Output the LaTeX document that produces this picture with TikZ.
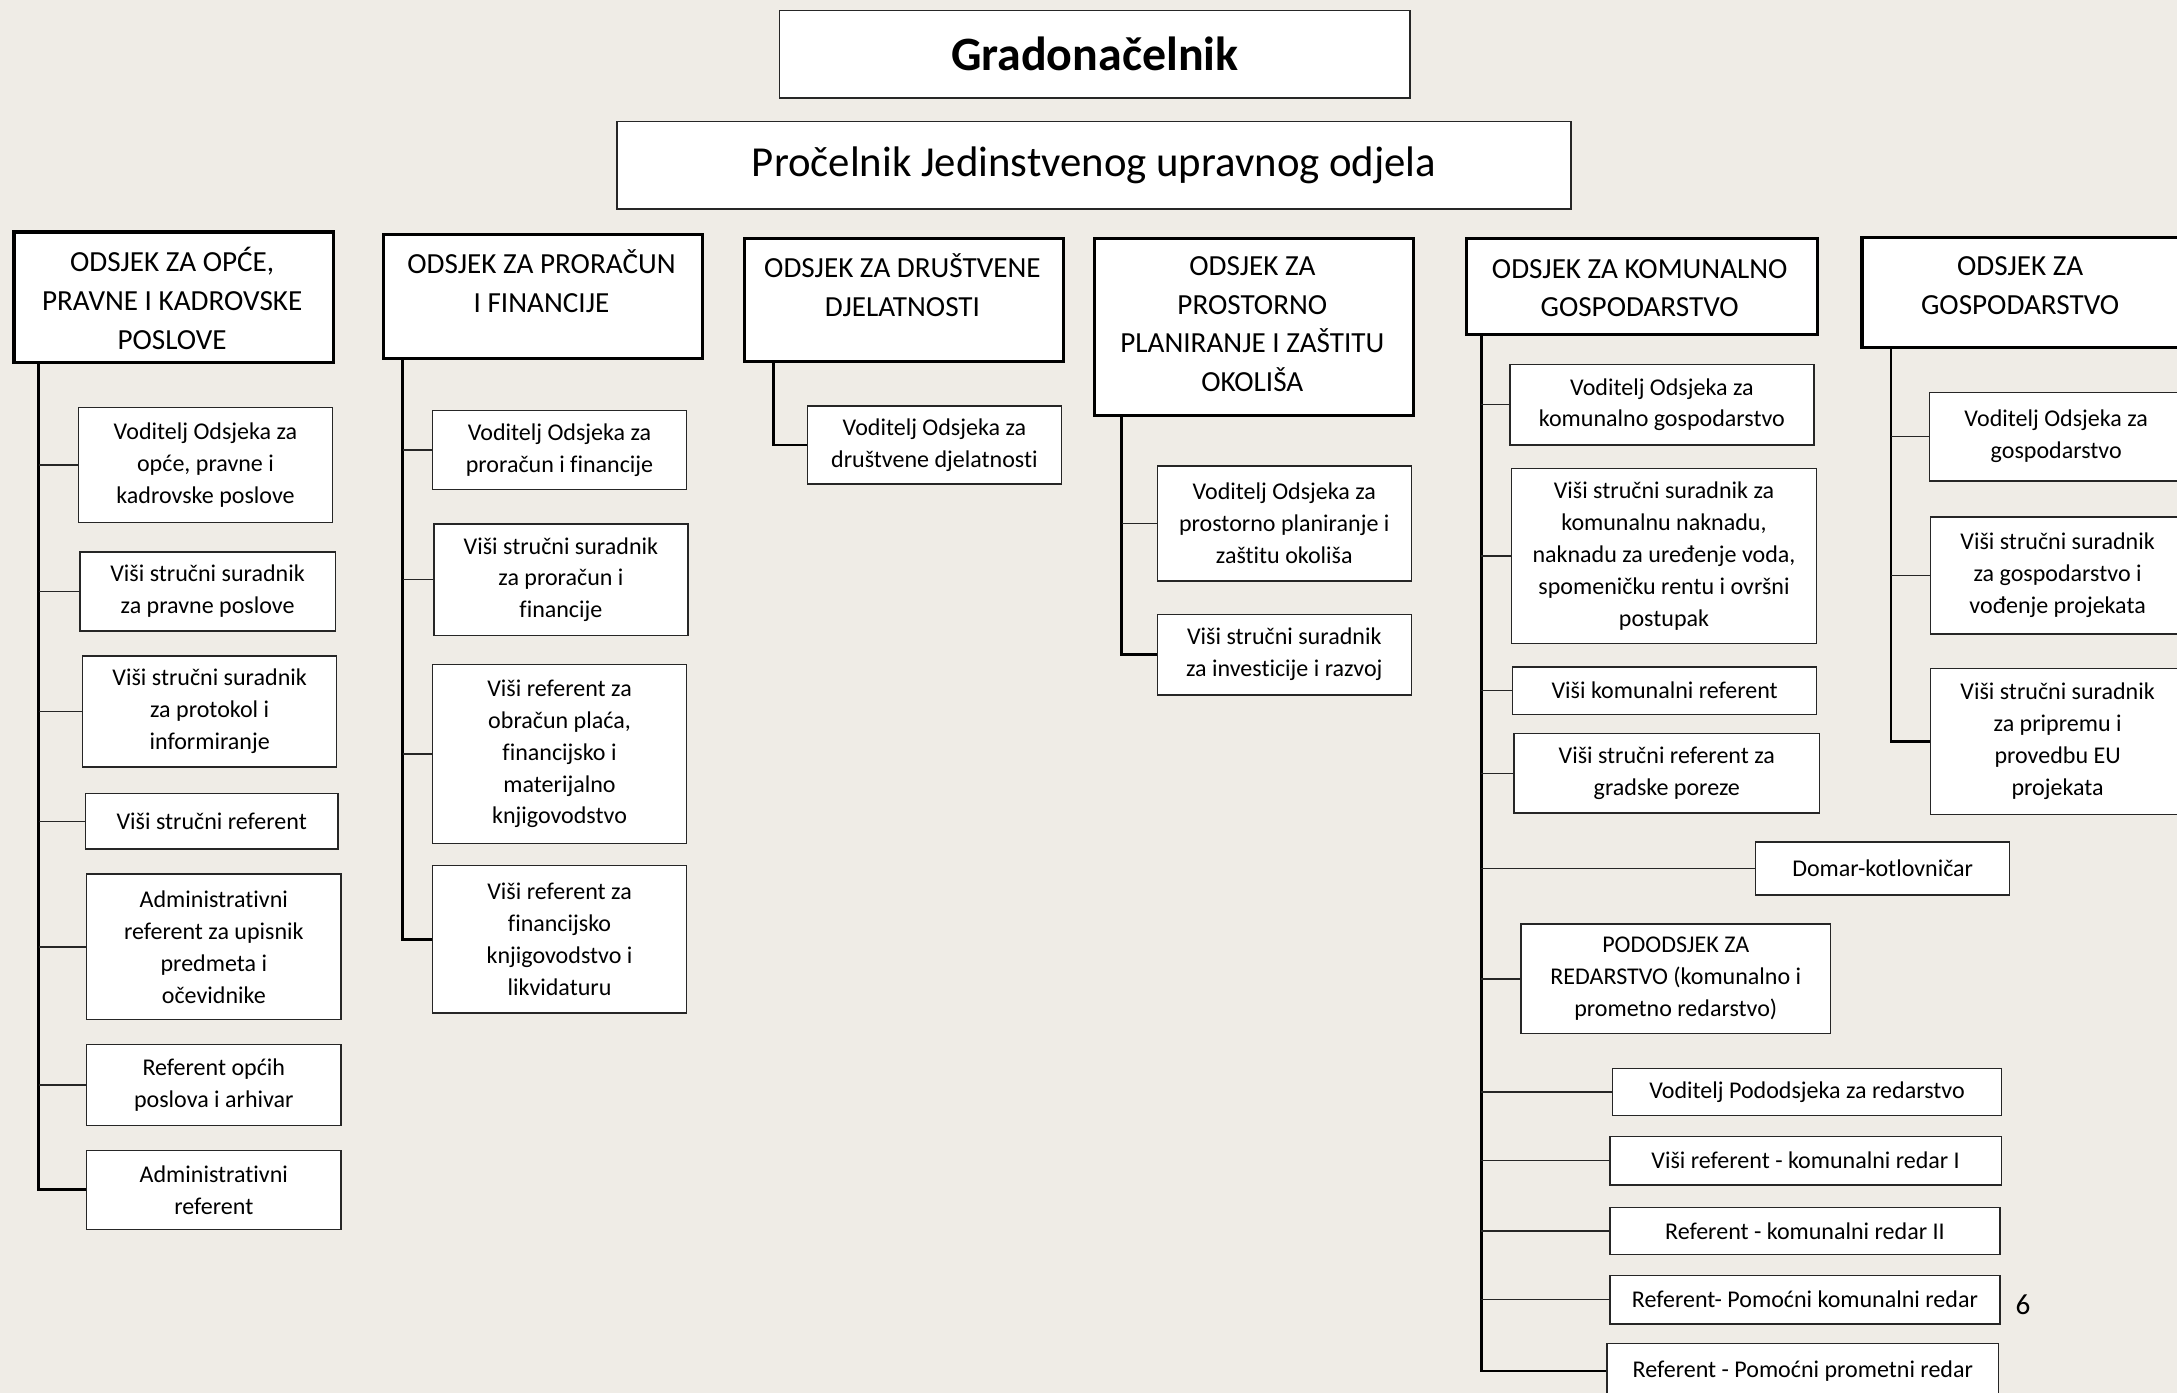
\documentclass[tikz,border=0pt]{standalone}
\usepackage{fontspec}
\setmainfont{Carlito}[Ligatures=NoCommon]
\definecolor{bgc}{HTML}{EFECE6}
\tikzset{
  sbox/.style={draw=black!85, line width=1pt, fill=white, align=center, inner sep=0pt, anchor=north west, font=\fontsize{17.3}{23}\selectfont},
  hbox/.style={draw=black, line width=2.2pt, fill=white, inner sep=0pt, anchor=north west},
  htext/.style={align=center, inner sep=0pt, font=\fontsize{21}{28}\selectfont},
  spine/.style={draw=black, line width=2pt},
  branch/.style={draw=black!85, line width=1pt},
}
\begin{document}
\begin{tikzpicture}[x=1pt,y=-1pt]
\useasboundingbox (0,0) rectangle (1568,1003);
\clip (0,0) rectangle (1568,1003);
\fill[bgc] (0,0) rectangle (1568,1003);

% top boxes
\node[draw=black!85, line width=1pt, fill=white, anchor=north west, minimum width=454pt, minimum height=63pt, inner sep=0pt, font=\fontsize{34.5}{38}\selectfont\bfseries] (g) at (561,7) {Gradonačelnik};
\node[draw=black!85, line width=1pt, fill=white, anchor=north west, minimum width=687pt, minimum height=63pt, inner sep=0pt, font=\fontsize{30.8}{34}\selectfont] (p) at (444,87) {Pročelnik Jedinstvenog upravnog odjela};

% spine coordinates
\coordinate (s1) at (28,0);
\coordinate (s2) at (290,0);
\coordinate (s3) at (557,0);
\coordinate (s4) at (808,0);
\coordinate (s5) at (1067,0);
\coordinate (s6) at (1362,0);

% headers
\node[hbox, minimum width=230pt, minimum height=94pt] (h1) at (9,166) {};
\node[hbox, minimum width=230pt, minimum height=89pt] (h2) at (275,168) {};
\node[hbox, minimum width=230pt, minimum height=88pt] (h3) at (535,171) {};
\node[hbox, minimum width=230pt, minimum height=127pt] (h4) at (787,171) {};
\node[hbox, minimum width=253pt, minimum height=69pt] (h5) at (1055,171) {};
\node[hbox, minimum width=230pt, minimum height=79pt] (h6) at (1340,170) {};
\node[htext] (t1) at (124,215) {ODSJEK ZA OPĆE,\\PRAVNE I KADROVSKE\\POSLOVE};
\node[htext] (t2) at (390,202.5) {ODSJEK ZA PRORAČUN\\I FINANCIJE};
\node[htext] (t3) at (650,205.5) {ODSJEK ZA DRUŠTVENE\\DJELATNOSTI};
\node[htext] (t4) at (902,233.5) {ODSJEK ZA\\PROSTORNO\\PLANIRANJE I ZAŠTITU\\OKOLIŠA};
\node[htext] (t5) at (1181,207.5) {ODSJEK ZA KOMUNALNO\\GOSPODARSTVO};
\node[htext] (t6) at (1455,205.5) {ODSJEK ZA\\GOSPODARSTVO};

% column 1
\node[sbox, minimum width=183pt, minimum height=83pt] (a1) at (56,293) {Voditelj Odsjeka za\\opće, pravne i\\kadrovske poslove};
\node[sbox, minimum width=184pt, minimum height=57pt] (a2) at (57,397) {Viši stručni suradnik\\za pravne poslove};
\node[sbox, minimum width=183pt, minimum height=80pt] (a3) at (59,472) {Viši stručni suradnik\\za protokol i\\informiranje};
\node[sbox, minimum width=182pt, minimum height=40pt] (a4) at (61,571) {Viši stručni referent};
\node[sbox, minimum width=183pt, minimum height=105pt] (a5) at (62,629) {Administrativni\\referent za upisnik\\predmeta i\\očevidnike};
\node[sbox, minimum width=183pt, minimum height=58pt] (a6) at (62,752) {Referent općih\\poslova i arhivar};
\node[sbox, minimum width=183pt, minimum height=57pt] (a7) at (62,828) {Administrativni\\referent};

% column 2
\node[sbox, minimum width=183pt, minimum height=57pt] (b1) at (311,295) {Voditelj Odsjeka za\\proračun i financije};
\node[sbox, minimum width=183pt, minimum height=80pt] (b2) at (312,377) {Viši stručni suradnik\\za proračun i\\financije};
\node[sbox, minimum width=183pt, minimum height=129pt] (b3) at (311,478) {Viši referent za\\obračun plaća,\\financijsko i\\materijalno\\knjigovodstvo};
\node[sbox, minimum width=183pt, minimum height=106pt] (b4) at (311,623) {Viši referent za\\financijsko\\knjigovodstvo i\\likvidaturu};

% column 3
\node[sbox, minimum width=183pt, minimum height=56pt] (c1) at (581,292) {Voditelj Odsjeka za\\društvene djelatnosti};

% column 4
\node[sbox, minimum width=183pt, minimum height=83pt] (d1) at (833,335) {Voditelj Odsjeka za\\prostorno planiranje i\\zaštitu okoliša};
\node[sbox, minimum width=183pt, minimum height=58pt] (d2) at (833,442) {Viši stručni suradnik\\za investicije i razvoj};

% column 5
\node[sbox, minimum width=219pt, minimum height=58pt] (e1) at (1087,262) {Voditelj Odsjeka za\\komunalno gospodarstvo};
\node[sbox, minimum width=220pt, minimum height=126pt] (e2) at (1088,337) {Viši stručni suradnik za\\komunalnu naknadu,\\naknadu za uređenje voda,\\spomeničku rentu i ovršni\\postupak};
\node[sbox, minimum width=219pt, minimum height=34pt] (e3) at (1089,480) {Viši komunalni referent};
\node[sbox, minimum width=220pt, minimum height=57pt] (e4) at (1090,528) {Viši stručni referent za\\gradske poreze};
\node[sbox, minimum width=183pt, minimum height=38pt] (e5) at (1264,606) {Domar-kotlovničar};
\node[sbox, minimum width=223pt, minimum height=79pt] (e6) at (1095,665) {PODODSJEK ZA\\REDARSTVO (komunalno i\\prometno redarstvo)};
\node[sbox, minimum width=280pt, minimum height=34pt] (e7) at (1161,769) {Voditelj Pododsjeka za redarstvo};
\node[sbox, minimum width=282pt, minimum height=35pt] (e8) at (1159,818) {Viši referent - komunalni redar I};
\node[sbox, minimum width=281pt, minimum height=34pt] (e9) at (1159,869) {Referent - komunalni redar II};
\node[sbox, minimum width=281pt, minimum height=35pt] (e10) at (1159,918) {Referent- Pomoćni komunalni redar};
\node[sbox, minimum width=282pt, minimum height=40pt] (e11) at (1157,967) {Referent - Pomoćni prometni redar};

% column 6
\node[sbox, minimum width=183pt, minimum height=64pt] (f1) at (1389,282) {Voditelj Odsjeka za\\gospodarstvo};
\node[sbox, minimum width=183pt, minimum height=84pt] (f2) at (1390,372) {Viši stručni suradnik\\za gospodarstvo i\\vođenje projekata};
\node[sbox, minimum width=183pt, minimum height=105pt] (f3) at (1390,481) {Viši stručni suradnik\\za pripremu i\\provedbu EU\\projekata};

% page number
\node[inner sep=0pt, font=\fontsize{21}{24}\selectfont] (pg) at (1457,940) {6};

% spines
\draw[spine] (h1.south -| s1) -- (s1 |- a7.west) -- (a7.west);
\draw[spine] (h2.south -| s2) -- (s2 |- b4.west) -- (b4.west);
\draw[spine] (h3.south -| s3) -- (s3 |- c1.west) -- (c1.west);
\draw[spine] (h4.south -| s4) -- (s4 |- d2.west) -- (d2.west);
\draw[spine] (h5.south -| s5) -- (s5 |- e11.west) -- (e11.west);
\draw[spine] (h6.south -| s6) -- (s6 |- f3.west) -- (f3.west);

% branches
\foreach \b in {a1,a2,a3,a4,a5,a6} {\draw[branch] (s1 |- \b.west) -- (\b.west);}
\foreach \b in {b1,b2,b3} {\draw[branch] (s2 |- \b.west) -- (\b.west);}
\draw[branch] (s4 |- d1.west) -- (d1.west);
\foreach \b in {e1,e2,e3,e4,e5,e6,e7,e8,e9,e10} {\draw[branch] (s5 |- \b.west) -- (\b.west);}
\foreach \b in {f1,f2} {\draw[branch] (s6 |- \b.west) -- (\b.west);}
\end{tikzpicture}
\end{document}
